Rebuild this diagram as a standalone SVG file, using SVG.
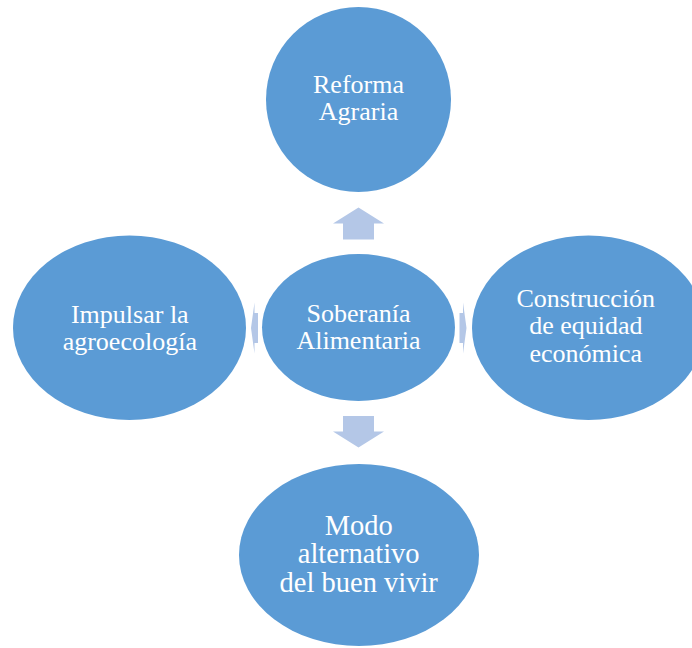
<svg xmlns="http://www.w3.org/2000/svg" width="692" height="648" viewBox="0 0 692 648">
<style>
.n{fill:#5B9BD5;}
.a{fill:#B4C7E7;}
.t{fill:#FFFFFF;font-family:"Liberation Serif","Times New Roman",serif;font-size:26px;text-anchor:middle;}
.b{font-size:28.5px;}
</style>
<rect width="692" height="648" fill="#FFFFFF"/>
<g id="connectors">
<polygon class="a" points="358.5,207.5 384,223.5 374,223.5 374,239.5 343,239.5 343,223.5 333,223.5"/>
<polygon class="a" points="358.5,447.5 384,431.5 374,431.5 374,416 343,416 343,431.5 333,431.5"/>
<polygon class="a" points="251,328 254.5,302.5 254.5,313 258,313 258,343 254.5,343 254.5,353.5"/>
<polygon class="a" points="466.5,328 463,302.5 463,313 459.5,313 459.5,343 463,343 463,353.5"/>
</g>
<g id="center">
<ellipse class="n" cx="358.5" cy="327.5" rx="96.5" ry="73.5"/>
<text class="t" x="358.5" y="321.5">Soberanía</text>
<text class="t" x="358.5" y="349">Alimentaria</text>
</g>
<g id="top">
<ellipse class="n" cx="358.5" cy="99.5" rx="92.5" ry="92.5"/>
<text class="t" x="358.5" y="92.5">Reforma</text>
<text class="t" x="358.5" y="120">Agraria</text>
</g>
<g id="left">
<ellipse class="n" cx="129.5" cy="327.75" rx="116.5" ry="92.25"/>
<text class="t" x="129.8" y="322.5">Impulsar la</text>
<text class="t" x="129.8" y="350">agroecología</text>
</g>
<g id="right">
<ellipse class="n" cx="588.5" cy="327.75" rx="116.5" ry="92.25"/>
<text class="t" x="585.8" y="306.5">Construcción</text>
<text class="t" x="585.8" y="334">de equidad</text>
<text class="t" x="585.8" y="361.5">económica</text>
</g>
<g id="bottom">
<ellipse class="n" cx="359" cy="555" rx="120" ry="91"/>
<text class="t b" x="358.7" y="535">Modo</text>
<text class="t b" x="358.7" y="563.3">alternativo</text>
<text class="t b" x="358.7" y="591.7">del buen vivir</text>
</g>
</svg>
